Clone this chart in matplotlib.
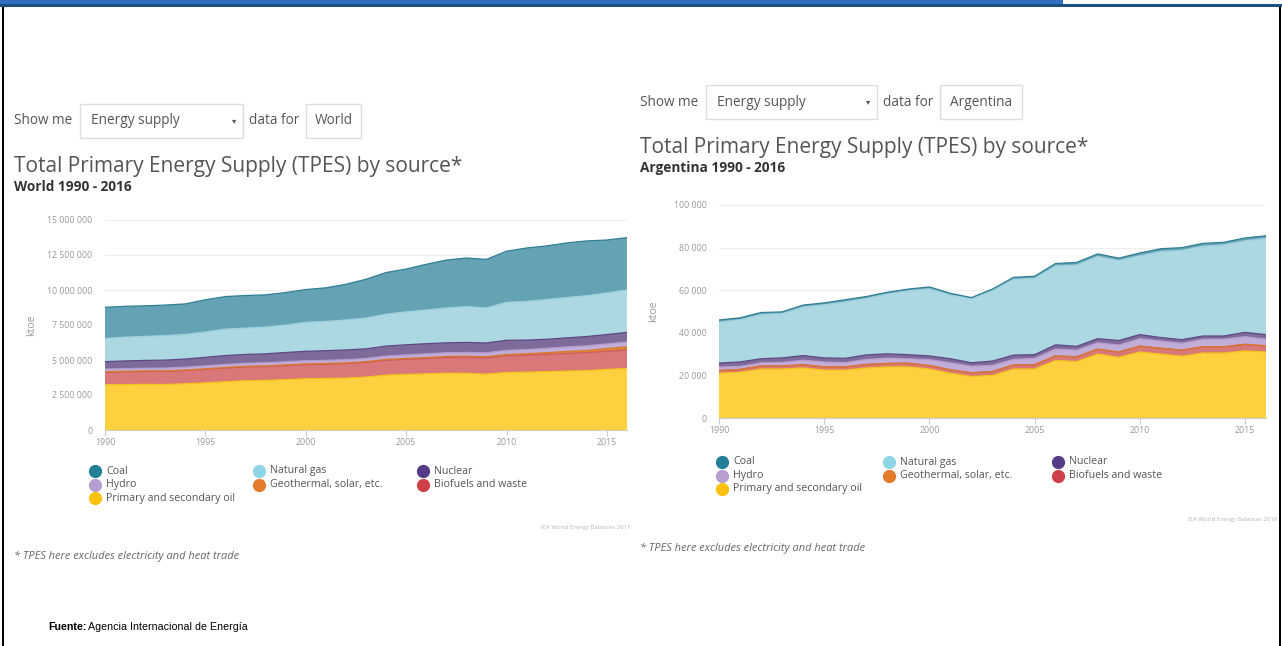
import matplotlib
matplotlib.use("Agg")
import matplotlib.pyplot as plt
import numpy as np
from matplotlib.patches import Rectangle
from matplotlib.lines import Line2D
from matplotlib.ticker import FuncFormatter

W, H = 1282, 646

years = list(range(1990, 2017))
sources = ["Primary and secondary oil", "Biofuels and waste", "Geothermal, solar, etc.",
           "Hydro", "Nuclear", "Natural gas", "Coal"]

# World, ktoe
world_oil = [3232000, 3240000, 3260000, 3250000, 3300000, 3370000, 3450000, 3520000, 3540000,
             3600000, 3660000, 3680000, 3710000, 3780000, 3920000, 3970000, 4010000, 4060000,
             4050000, 3990000, 4110000, 4130000, 4170000, 4210000, 4240000, 4330000, 4390000]
world_bio = [902000, 915000, 925000, 935000, 945000, 960000, 975000, 985000, 995000,
             1000000, 1010000, 1020000, 1030000, 1045000, 1060000, 1080000, 1100000, 1120000,
             1140000, 1160000, 1190000, 1210000, 1230000, 1260000, 1280000, 1300000, 1330000]
world_geo = [36000, 37000, 38000, 39000, 40000, 42000, 43000, 45000, 47000, 49000, 52000,
             53000, 55000, 57000, 60000, 63000, 67000, 71000, 77000, 85000, 95000, 107000,
             121000, 140000, 160000, 185000, 222000]
world_hydro = [184000, 190000, 190000, 200000, 202000, 213000, 216000, 220000, 222000, 225000,
               225000, 222000, 227000, 228000, 243000, 252000, 260000, 267000, 276000, 280000,
               296000, 300000, 316000, 326000, 335000, 335000, 350000]
world_nuclear = [526000, 551000, 556000, 569000, 581000, 608000, 636000, 627000, 639000, 663000,
                 675000, 691000, 697000, 687000, 714000, 721000, 729000, 709000, 712000, 703000,
                 719000, 674000, 642000, 646000, 662000, 670000, 681000]
world_gas = [1663000, 1700000, 1720000, 1750000, 1760000, 1810000, 1890000, 1880000, 1910000,
             1960000, 2070000, 2090000, 2140000, 2200000, 2280000, 2350000, 2410000, 2490000,
             2560000, 2500000, 2710000, 2770000, 2840000, 2880000, 2920000, 2970000, 3035000]
world_coal = [2221000, 2200000, 2180000, 2180000, 2180000, 2300000, 2320000, 2330000, 2300000,
              2320000, 2340000, 2400000, 2550000, 2770000, 2970000, 3060000, 3260000, 3420000,
              3470000, 3470000, 3650000, 3810000, 3830000, 3900000, 3910000, 3780000, 3730000]

# Argentina, ktoe
arg_oil = [21000, 21500, 23000, 23000, 23500, 22500, 22500, 23500, 24000, 24000, 23000, 21000,
           19500, 20000, 23000, 23000, 27000, 26500, 30000, 28500, 31000, 30000, 29000, 30500,
           30500, 31500, 31000]
arg_bio = [1300, 1300, 1400, 1400, 1500, 1500, 1500, 1600, 1600, 1700, 1600, 1600, 1700, 1800,
           1900, 2000, 2100, 2200, 2300, 2400, 2700, 2700, 2800, 2900, 2900, 3000, 2800]
arg_geo = [20, 20, 20, 20, 20, 20, 20, 20, 20, 20, 30, 30, 30, 30, 30, 40, 40, 40, 50, 50, 60,
           70, 80, 90, 100, 120, 140]
arg_hydro = [1600, 1400, 1500, 1700, 2100, 2300, 2000, 2400, 2500, 2100, 2800, 3300, 3100, 2900,
             2600, 3000, 3200, 3100, 3000, 3300, 3500, 3400, 3200, 3500, 3500, 3600, 3100]
arg_nuclear = [1900, 2100, 1900, 2100, 2200, 1900, 2000, 2100, 2000, 1900, 1700, 1900, 1600,
               2000, 2000, 1700, 2000, 1800, 1900, 2100, 1900, 1600, 1700, 1500, 1500, 2000, 2100]
arg_gas = [19200, 19800, 20800, 20800, 22800, 24900, 26500, 26500, 28100, 30000, 31500, 29900,
           30000, 33100, 35600, 35800, 37100, 38200, 38600, 37600, 37000, 40400, 41900, 42200,
           42800, 43000, 45100]
arg_coal = [1000, 900, 900, 800, 900, 900, 1000, 900, 800, 800, 900, 800, 600, 700, 900, 1000,
            1100, 1200, 1200, 1100, 1300, 1300, 1300, 1300, 1200, 1300, 1300]

fill_colors = ["#fdd03f", "#d97878", "#e0873a", "#c2acd8", "#7e6a9b", "#acd8e2", "#64a2b4"]
line_colors = ["#f5c21a", "#cc5a5e", "#d9782a", "#b39bcb", "#5d4785", "#9ccfdc", "#2f7f95"]
legend_colors = {"Coal": "#237f96", "Natural gas": "#8ed5e6", "Nuclear": "#553a85",
                 "Hydro": "#b69ed3", "Geothermal, solar, etc.": "#e37b2b",
                 "Biofuels and waste": "#cf3f48", "Primary and secondary oil": "#fdc20e"}
legend_rows = [["Coal", "Natural gas", "Nuclear"],
               ["Hydro", "Geothermal, solar, etc.", "Biofuels and waste"],
               ["Primary and secondary oil"]]

plt.rcParams["font.family"] = ["Open Sans", "DejaVu Sans"]

fig = plt.figure(figsize=(W / 100, H / 100), dpi=100)
fig.patch.set_facecolor("white")


def fx(x):
    return x / W


def fy(y):
    return 1 - y / H


def rect(x0, y0, x1, y1, **kw):
    fig.add_artist(Rectangle((fx(x0), fy(y1)), fx(x1) - fx(x0), fy(y0) - fy(y1),
                             transform=fig.transFigure, **kw))


def txt(x, y, s, **kw):
    kw.setdefault("va", "center")
    kw.setdefault("color", "#555555")
    fig.text(fx(x), fy(y), s, **kw)


# page frame
rect(0, 0, 1063, 4, facecolor="#2f6fbf", edgecolor="none")
rect(0, 4, W, 7, facecolor="#1f4f7f", edgecolor="none")
rect(2, 7, 4, H, facecolor="black", edgecolor="none")
rect(1279, 7, 1281, H, facecolor="black", edgecolor="none")


def panel(ax_box, series, ymax, ystep, country, head_y, box_w, box2_w, legend_x, legend_y,
          src_text, src_x, src_y, note_y, label_x):
    x0 = ax_box[0]
    # controls
    txt(x0, head_y, "Show me", fontsize=9.8)
    rect(x0 + 66, head_y - 17, x0 + 66 + box_w, head_y + 17, facecolor="none",
         edgecolor="#dddddd", linewidth=1)
    txt(x0 + 77, head_y, "Energy supply", fontsize=9.8)
    txt(x0 + 66 + box_w - 9, head_y, "▾", fontsize=6, family="DejaVu Sans", ha="center")
    txt(x0 + 66 + box_w + 6, head_y, "data for", fontsize=9.8)
    bx = x0 + 66 + box_w + 63
    rect(bx, head_y - 17, bx + box2_w, head_y + 17, facecolor="none",
         edgecolor="#dddddd", linewidth=1)
    txt(bx + box2_w / 2, head_y, country, fontsize=9.8, ha="center")
    txt(x0, head_y + 45, "Total Primary Energy Supply (TPES) by source*", fontsize=15)
    txt(x0, head_y + 66, f"{country} 1990 - 2016", fontsize=9.8, fontweight="bold",
        color="#333333")

    # chart
    left, right, bottom, top = ax_box[1], ax_box[2], ax_box[3], ax_box[4]
    ax = fig.add_axes([fx(left), fy(bottom), fx(right) - fx(left), fy(top) - fy(bottom)])
    ax.stackplot(years, *series, colors=fill_colors, linewidth=0)
    tops = np.cumsum(np.array(series, dtype=float), axis=0)
    for k in range(len(series)):
        ax.plot(years, tops[k], color=line_colors[k], linewidth=0.9)
    ax.set_xlim(1990, 2016)
    ax.set_ylim(0, ymax)
    ax.set_yticks(np.arange(0, ymax + 1, ystep))
    ax.set_xticks(range(1990, 2016, 5))
    ax.yaxis.set_major_formatter(FuncFormatter(lambda v, p: f"{int(v):,}".replace(",", " ")))
    ax.grid(axis="y", color="#eeeeee", linewidth=0.8)
    ax.set_axisbelow(True)
    for s in ["top", "right", "left"]:
        ax.spines[s].set_visible(False)
    ax.spines["bottom"].set_color("#cccccc")
    ax.tick_params(axis="y", length=0, pad=9, labelsize=6.3, labelcolor="#999999")
    ax.tick_params(axis="x", length=4, color="#cccccc", pad=2, labelsize=6.3,
                   labelcolor="#999999")
    ax.set_ylabel("ktoe", fontsize=7.5, color="#999999")
    ax.yaxis.set_label_coords((label_x - left) / (right - left), 0.5)

    # legend
    for r, row in enumerate(legend_rows):
        for c, name in enumerate(row):
            mx = legend_x[c]
            my = legend_y + r * 13.5
            fig.add_artist(Line2D([fx(mx)], [fy(my)], marker="o", markersize=8.5,
                                  color=legend_colors[name], transform=fig.transFigure))
            txt(mx + 11, my, name, fontsize=7.7)

    txt(src_x, src_y, src_text, fontsize=4.3, color="#b5b5b5", ha="right")
    txt(x0, note_y, "* TPES here excludes electricity and heat trade", fontsize=7.9,
        style="italic", color="#666666")
    return ax


world = [world_oil, world_bio, world_geo, world_hydro, world_nuclear, world_gas, world_coal]
argentina = [arg_oil, arg_bio, arg_geo, arg_hydro, arg_nuclear, arg_gas, arg_coal]

panel((14, 105, 627, 430, 220), world, 15000000, 2500000, "World", 121, 163, 55,
      [95, 259, 423], 471, "IEA World Energy Balances 2011", 630, 528, 556, 37)
panel((640, 719, 1266, 418, 205), argentina, 100000, 20000, "Argentina", 102, 171, 82,
      [722, 889, 1058], 462, "IEA World Energy Balances 2018", 1277, 520, 548, 659)

fig.text(fx(48), fy(627), "Fuente:", fontsize=7.7, family="Liberation Sans",
         fontweight="bold", va="center")
fig.text(fx(88), fy(627), "Agencia Internacional de Energía", fontsize=7.7,
         family="Liberation Sans", va="center")

fig.savefig("out.png", dpi=100)
